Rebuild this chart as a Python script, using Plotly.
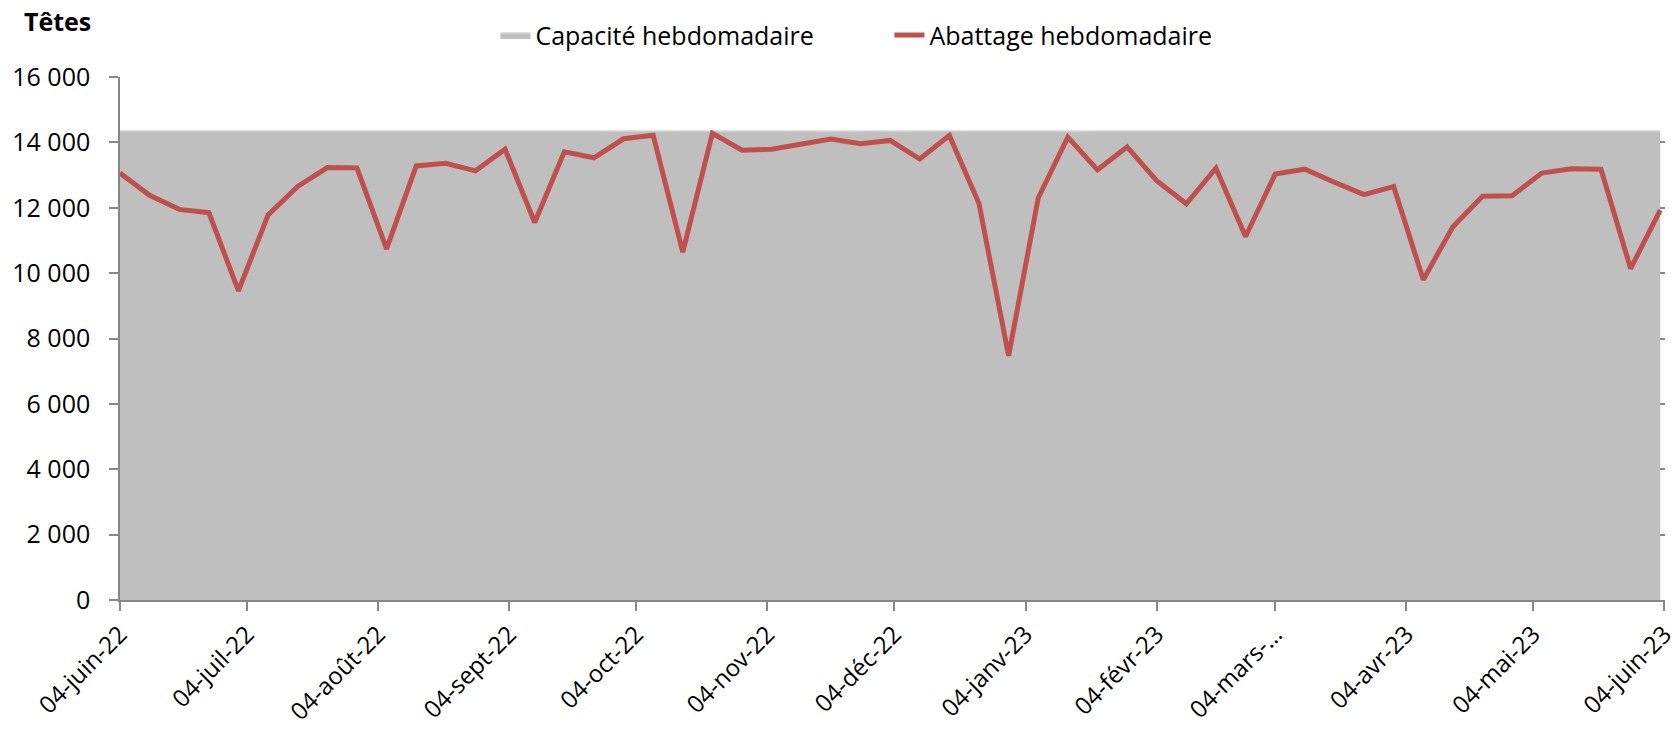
import pandas as pd
import plotly.graph_objects as go

# Weekly slaughter (heads) from 4 June 2022, one value per week
week_start = "2022-06-04"
abattage = [
    13060, 12380, 11950, 11850, 9460, 11780, 12650, 13230, 13220, 10740,
    13280, 13360, 13130, 13790, 11550, 13710, 13530, 14110, 14220, 10640,
    14280, 13760, 13790, 13950, 14100, 13960, 14060, 13490, 14210, 12130,
    7470, 12300, 14160, 13160, 13860, 12830, 12120, 13210, 11120, 13030,
    13180, 12780, 12400, 12650, 9800, 11420, 12350, 12370, 13060, 13190,
    13180, 10140, 11930,
]
capacite_value = 14350
capacite = [capacite_value] * len(abattage)
dates = pd.date_range(week_start, periods=len(abattage), freq="7D")

# Axis ticks
x_tickvals = ["2022-06-04", "2022-07-04", "2022-08-04", "2022-09-04", "2022-10-04",
              "2022-11-04", "2022-12-04", "2023-01-04", "2023-02-04", "2023-03-04",
              "2023-04-04", "2023-05-04", "2023-06-04"]
x_ticktext = ["04-juin-22", "04-juil-22", "04-août-22", "04-sept-22", "04-oct-22",
              "04-nov-22", "04-déc-22", "04-janv-23", "04-févr-23", "04-mars-…",
              "04-avr-23", "04-mai-23", "04-juin-23"]
y_tickvals = [0, 2000, 4000, 6000, 8000, 10000, 12000, 14000, 16000]
y_ticktext = ["0", "2 000", "4 000", "6 000", "8 000", "10 000", "12 000", "14 000", "16 000"]

FONT = "Open Sans"
AXIS_GREY = "#878787"

fig = go.Figure()
fig.add_trace(go.Scatter(
    x=dates, y=capacite, name="Capacité hebdomadaire",
    mode="lines", fill="tozeroy", fillcolor="#BFBFBF",
    line=dict(color="#D4D4D4", width=1.5),
))
fig.add_trace(go.Scatter(
    x=dates, y=abattage, name="Abattage hebdomadaire",
    mode="lines", line=dict(color="#C0504D", width=5),
))

fig.update_layout(
    width=1677, height=729,
    margin=dict(l=120, r=12, t=72, b=129),
    paper_bgcolor="white", plot_bgcolor="white",
    font=dict(family=FONT, size=25, color="black"),
    showlegend=True,
    legend=dict(
        orientation="h", x=0.243, xanchor="left", y=1.08, yanchor="middle",
        font=dict(family=FONT, size=25), entrywidth=349, entrywidthmode="pixels",
        bgcolor="rgba(0,0,0,0)",
    ),
    title=dict(
        text="<b>Têtes</b>", x=24 / 1677, xanchor="left", xref="container",
        y=1 - 22 / 729, yanchor="middle", yref="container",
        font=dict(family=FONT, size=25, color="black"),
    ),
    xaxis=dict(
        type="date", range=["2022-06-04", "2023-06-04 03:00"],
        tickvals=x_tickvals, ticktext=x_ticktext, tickangle=-45,
        ticks="outside", ticklen=9, tickwidth=1.5, tickcolor=AXIS_GREY,
        showline=True, linecolor=AXIS_GREY, linewidth=1.5,
        showgrid=False, zeroline=False, automargin=False,
        ticklabeloverflow="allow",
        tickfont=dict(family=FONT, size=24),
    ),
    yaxis=dict(
        range=[0, 16000], tickvals=y_tickvals, ticktext=y_ticktext,
        ticks="outside", ticklen=9, tickwidth=1.5, tickcolor=AXIS_GREY,
        showline=True, linecolor=AXIS_GREY, linewidth=1.5,
        showgrid=True, gridcolor=AXIS_GREY, gridwidth=1.5,
        zeroline=False, ticklabelstandoff=14, automargin=False,
        tickfont=dict(family=FONT, size=25),
    ),
)

fig.write_html("out.html")
